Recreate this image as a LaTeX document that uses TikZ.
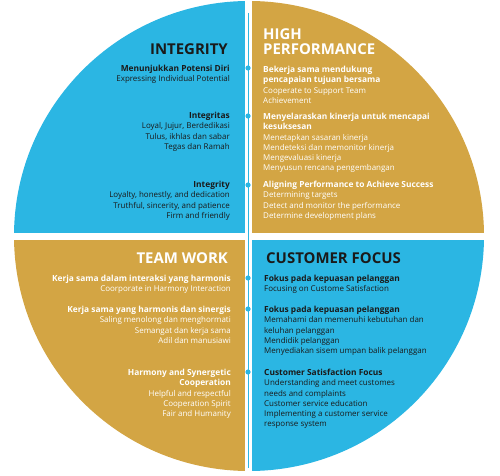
\documentclass[tikz,border=0pt]{standalone}
\usepackage{fontspec}
\setmainfont{Open Sans}
\definecolor{skyblue}{HTML}{2BB6E3}
\definecolor{gold}{HTML}{D3A544}
\definecolor{ink}{HTML}{1A1A1A}
\newcommand{\sub}[1]{{\fontsize{8.4}{10.3}\selectfont\bfseries #1}}
\tikzset{
  head/.style={font=\fontsize{15}{16}\selectfont\bfseries, inner sep=0pt},
  body/.style={font=\fontsize{8}{10.3}\selectfont, inner sep=0pt},
  lft/.style={anchor=north west, align=left},
  rgt/.style={anchor=north east, align=right},
}
\begin{document}
\begin{tikzpicture}[x=1bp,y=-1bp]
  \useasboundingbox (0,0) rectangle (500,476);
  % 圆分成四块
  \begin{scope}
    \clip (249,236) circle[radius=235bp];
    \fill[skyblue] (0,0) rectangle (245,233);
    \fill[gold] (252,0) rectangle (500,233);
    \fill[gold] (0,240) rectangle (245,476);
    \fill[skyblue] (252,240) rectangle (500,476);
  \end{scope}
  % 中间竖线与圆点
  \draw[skyblue, line width=0.8] (248,13) -- (248,468);
  \foreach \y in {68,116,185,278,309,372}
    \fill[skyblue] (248,\y) circle[radius=2.6bp];
  % 左上 INTEGRITY
  \node[head, rgt, ink] (integ) at (228,43) {INTEGRITY};
  \node[body, rgt, ink] (tl1) at (230,65)
    {\sub{Menunjukkan Potensi Diri}\\Expressing Individual Potential};
  \node[body, rgt, ink] (tl2) at (230,112)
    {\sub{Integritas}\\Loyal, Jujur, Berdedikasi\\Tulus, ikhlas dan sabar\\Tegas dan Ramah};
  \node[body, rgt, ink] (tl3) at (230,181)
    {\sub{Integrity}\\Loyalty, honestly, and dedication\\Truthful, sincerity, and patience\\Firm and friendly};
  % 右上 HIGH PERFORMANCE
  \node[head, lft, white] (perf) at (263,28) {HIGH\\PERFORMANCE};
  \node[body, lft, white] (tr1) at (263,66)
    {\sub{Bekerja sama mendukung}\\\sub{pencapaian tujuan bersama}\\Cooperate to Support Team\\Achievement};
  \node[body, lft, white] (tr2) at (263,113)
    {\sub{Menyelaraskan kinerja untuk mencapai}\\\sub{kesuksesan}\\Menetapkan sasaran kinerja\\Mendeteksi dan memonitor kinerja\\Mengevaluasi kinerja\\Menyusun rencana pengembangan};
  \node[body, lft, white] (tr3) at (263,181)
    {\sub{Aligning Performance to Achieve Success}\\Determining targets\\Detect and monitor the performance\\Determine development plans};
  % 左下 TEAM WORK
  \node[head, rgt, white] (team) at (228,252) {TEAM WORK};
  \node[body, rgt, white] (bl1) at (231,275)
    {\sub{Kerja sama dalam interaksi yang harmonis}\\Coorporate in Harmony Interaction};
  \node[body, rgt, white] (bl2) at (231,306)
    {\sub{Kerja sama yang harmonis dan sinergis}\\Saling menolong dan menghormati\\Semangat dan kerja sama\\Adil dan manusiawi};
  \node[body, rgt, white] (bl3) at (231,369)
    {\sub{Harmony and Synergetic}\\\sub{Cooperation}\\Helpful and respectful\\Cooperation Spirit\\Fair and Humanity};
  % 右下 CUSTOMER FOCUS
  \node[head, lft, ink] (cust) at (266,252) {CUSTOMER FOCUS};
  \node[body, lft, ink] (br1) at (264,275)
    {\sub{Fokus pada kepuasan pelanggan}\\Focusing on Custome Satisfaction};
  \node[body, lft, ink] (br2) at (264,306)
    {\sub{Fokus pada kepuasan pelanggan}\\Memahami dan memenuhi kebutuhan dan\\keluhan pelanggan\\Mendidik pelanggan\\Menyediakan sisem umpan balik pelanggan};
  \node[body, lft, ink] (br3) at (264,369)
    {\sub{Customer Satisfaction Focus}\\Understanding and meet customes\\needs and complaints\\Customer service education\\Implementing a customer service\\response system};
\end{tikzpicture}
\end{document}
